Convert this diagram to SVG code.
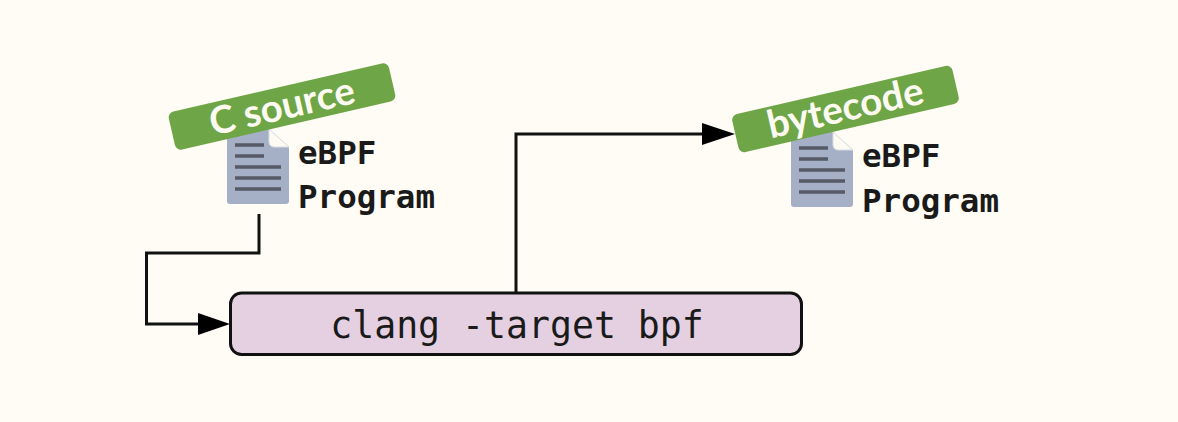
<svg xmlns="http://www.w3.org/2000/svg" width="1178" height="422" viewBox="0 0 1178 422">
<style>
.mono{font-family:"DejaVu Sans Mono","Liberation Mono",monospace;fill:#1a1a1a}
.lbl{font-size:32.500px;font-weight:700}
.tag{font-family:"Lato","Open Sans",sans-serif;font-size:38.500px;font-weight:700;fill:#fdfaf2;text-anchor:middle}
.ln{fill:none;stroke:#111;stroke-width:3}
.ar{fill:#000}
.bar{stroke:#555a66;stroke-width:3.500}
</style>
<defs>
<g id="doc">
<path d="M3 0H42L62 18V72a3 3 0 0 1-3 3H3a3 3 0 0 1-3-3V3a3 3 0 0 1 3-3Z" fill="#a5b0c6"/>
<path d="M42 0L62 18H47a5 5 0 0 1-5-5Z" fill="#fdfaf2" stroke="#d8dce4" stroke-width="1"/>
<path class="bar" d="M8 16H37M8 27H37M8 38H54M8 49H54M8 60H54"/>
</g>
</defs>
<rect width="1178" height="422" fill="#fffcf5"/>
<g id="connectors">
<path class="ln" d="M259 214V253H146.500V324H202"/>
<path class="ar" d="M198 313L230 324L198 335Z"/>
<path class="ln" d="M516 293V134H705"/>
<path class="ar" d="M702 123L735 134L702 145Z"/>
</g>
<g id="source">
<use href="#doc" x="227" y="129"/>
<g transform="rotate(-13 282 106.500)">
<rect x="169" y="87" width="226" height="39" rx="6" fill="#6ea647"/>
<text class="tag" x="282" y="119.500">C source</text>
</g>
<text class="mono lbl" x="298" y="164">eBPF</text>
<text class="mono lbl" x="298" y="208">Program</text>
</g>
<g id="bytecode">
<use href="#doc" x="791" y="132"/>
<g transform="rotate(-13 845.500 109)">
<rect x="732.500" y="89.500" width="226" height="39" rx="6" fill="#6ea647"/>
<text class="tag" x="845.500" y="121">bytecode</text>
</g>
<text class="mono lbl" x="862" y="167">eBPF</text>
<text class="mono lbl" x="862" y="212">Program</text>
</g>
<g id="clang">
<rect x="230.500" y="293" width="571" height="61.500" rx="11" fill="#e5d0e2" stroke="#111" stroke-width="3"/>
<text class="mono" x="517" y="338" font-size="36.500" text-anchor="middle">clang -target bpf</text>
</g>
</svg>
